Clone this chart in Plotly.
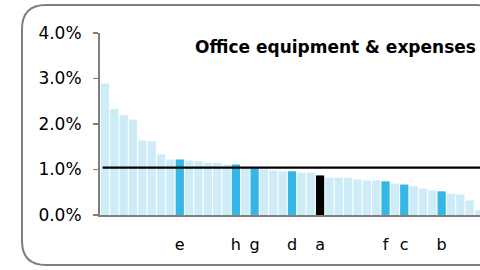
import plotly.graph_objects as go

# Data (percent of revenue), sorted descending
values_pct = [2.89, 2.33, 2.19, 2.10, 1.64, 1.62, 1.33, 1.22, 1.22, 1.20,
              1.18, 1.15, 1.15, 1.11, 1.11, 1.04, 1.03, 1.00, 0.98, 0.96,
              0.96, 0.93, 0.93, 0.87, 0.82, 0.82, 0.82, 0.78, 0.76, 0.76,
              0.74, 0.69, 0.67, 0.63, 0.58, 0.54, 0.52, 0.47, 0.45, 0.32,
              0.10]
labels = ["", "", "", "", "", "", "", "", "e", "",
          "", "", "", "", "h", "", "g", "", "", "",
          "d", "", "", "a", "", "", "", "", "", "",
          "f", "", "c", "", "", "", "b", "", "", "",
          ""]
focus_label = "a"
benchmark_pct = 1.04
title_text = "Office equipment & expenses"
y_ticks = [0.0, 0.01, 0.02, 0.03, 0.04]

LIGHT = "#CDECF8"
HIGHLIGHT = "#34B6E6"
FOCUS = "#000000"
GRAY = "#7F7F7F"
FONT = "DejaVu Sans, Liberation Sans, Arial, sans-serif"

xs = list(range(len(values_pct)))
ys = [v / 100 for v in values_pct]
colors = [FOCUS if l == focus_label else (HIGHLIGHT if l else LIGHT) for l in labels]

fig = go.Figure()
fig.add_trace(go.Bar(x=xs, y=ys, marker=dict(color=colors, line=dict(width=0)),
                     hoverinfo="skip"))

fig.add_shape(type="line", xref="x", yref="y",
              x0=-0.25, x1=len(xs) + 1, y0=benchmark_pct / 100, y1=benchmark_pct / 100,
              line=dict(color="black", width=2.2))

# Rounded frame (paper coords; plot area spans x 100..480 px, y 33..215 px)
def px_x(p):
    return (p - 100) / 380.0

def px_y(p):
    return (215 - p) / 182.0

L, R, T, B, r = 22, 500, 5, 265, 24
path = (f"M {px_x(L + r)},{px_y(T)} L {px_x(R - r)},{px_y(T)} "
        f"Q {px_x(R)},{px_y(T)} {px_x(R)},{px_y(T + r)} "
        f"L {px_x(R)},{px_y(B - r)} Q {px_x(R)},{px_y(B)} {px_x(R - r)},{px_y(B)} "
        f"L {px_x(L + r)},{px_y(B)} Q {px_x(L)},{px_y(B)} {px_x(L)},{px_y(B - r)} "
        f"L {px_x(L)},{px_y(T + r)} Q {px_x(L)},{px_y(T)} {px_x(L + r)},{px_y(T)} Z")
fig.add_shape(type="path", xref="paper", yref="paper", path=path,
              line=dict(color=GRAY, width=2), layer="below")

fig.add_annotation(x=px_x(478), y=px_y(47), xref="paper", yref="paper",
                   text=f"<b>{title_text}</b>", showarrow=False,
                   xanchor="right", yanchor="middle",
                   font=dict(family=FONT, size=17, color="black"))

tick_idx = [i for i, l in enumerate(labels) if l]
fig.update_layout(
    width=480, height=270,
    margin=dict(l=100, r=0, t=33, b=55),
    paper_bgcolor="white", plot_bgcolor="white",
    showlegend=False, bargap=0.12,
    font=dict(family=FONT, size=16, color="black"),
    xaxis=dict(range=[-0.53, 40.1], tickvals=tick_idx, ticktext=[labels[i] for i in tick_idx],
               showgrid=False, zeroline=False, showline=True, linecolor=GRAY, linewidth=2,
               ticks="", ticklabelstandoff=14, tickfont=dict(size=16)),
    yaxis=dict(range=[0, 0.04], tickvals=y_ticks, tickformat=".1%",
               showgrid=False, zeroline=False, showline=True, linecolor=GRAY, linewidth=2,
               ticks="outside", ticklen=5, tickcolor=GRAY, tickwidth=1.5,
               ticklabelstandoff=8, tickfont=dict(size=17)),
)

fig.write_html("out.html", config={"displayModeBar": False, "staticPlot": True},
               post_script="document.body.style.margin='0';document.body.style.padding='0';")
